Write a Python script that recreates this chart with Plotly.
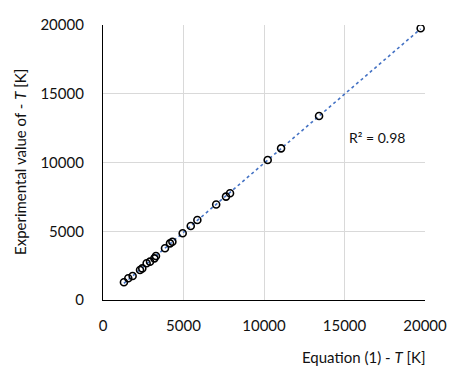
import numpy as np
import plotly.graph_objs as go

# equation (1) values vs experimental values, T in K
eq_T = [1300, 1570, 1840, 2300, 2440, 2710, 2920, 3190, 3290, 3850, 4160, 4310,
        4950, 5450, 5860, 7030, 7640, 7890, 10230, 11060, 13420, 19730]
exp_T = [1290, 1580, 1750, 2180, 2300, 2670, 2790, 3030, 3200, 3760, 4120, 4240,
         4850, 5380, 5820, 6950, 7520, 7760, 10180, 11030, 13380, 19760]
tick_vals = [0, 5000, 10000, 15000, 20000]
tick_text = ["0", "5000", "10000", "15000", "20000"]
r2_label = "R² = 0.98"

font_name = "Lato"

# linear trendline through the points
k, b = np.polyfit(eq_T, exp_T, 1)
fit_x = [min(eq_T), max(eq_T)]
fit_y = [k * v + b for v in fit_x]

fig = go.Figure()
fig.add_trace(go.Scatter(x=fit_x, y=fit_y, mode='lines',
                         line=dict(color='#4472C4', width=1.6, dash='dot'),
                         hoverinfo='skip'))
fig.add_trace(go.Scatter(x=eq_T, y=exp_T, mode='markers',
                         marker=dict(symbol='circle-open', size=7,
                                     color='black', line=dict(width=1.6))))

# page body has an 8px margin, so the figure is 8px smaller than the window
fig.update_layout(
    width=455, height=371,
    margin=dict(l=95, r=38, t=17, b=79),
    paper_bgcolor='white', plot_bgcolor='white',
    showlegend=False,
    font=dict(family=font_name, size=15, color='#111111'),
    xaxis=dict(range=[0, 20000], tickvals=tick_vals, ticktext=tick_text,
               showgrid=True, gridcolor='#d9d9d9', gridwidth=1, zeroline=False,
               showline=True, linecolor='black', linewidth=1.2,
               ticks='', ticklabelstandoff=12, automargin=False),
    yaxis=dict(range=[0, 20000], tickvals=tick_vals, ticktext=tick_text,
               showgrid=True, gridcolor='#d9d9d9', gridwidth=1, zeroline=False,
               showline=True, linecolor='black', linewidth=1.2,
               ticks='', ticklabelstandoff=15, automargin=False),
    annotations=[
        dict(text=r2_label, x=15150, y=11850, xref='x', yref='y',
             xanchor='left', yanchor='middle', showarrow=False,
             font=dict(size=14)),
        dict(text="Equation (1) - <i>T</i> [K]", showarrow=False,
             xref='paper', yref='paper', x=(428 - 103) / 322,
             y=-(357 - 300) / 275, xanchor='right', yanchor='middle'),
        dict(text="Experimental value of - <i>T</i> [K]", textangle=-90,
             showarrow=False, xref='paper', yref='paper',
             x=-(103 - 20) / 322, y=(300 - 162) / 275,
             xanchor='center', yanchor='middle'),
    ],
)

fig.write_html("out.html")
